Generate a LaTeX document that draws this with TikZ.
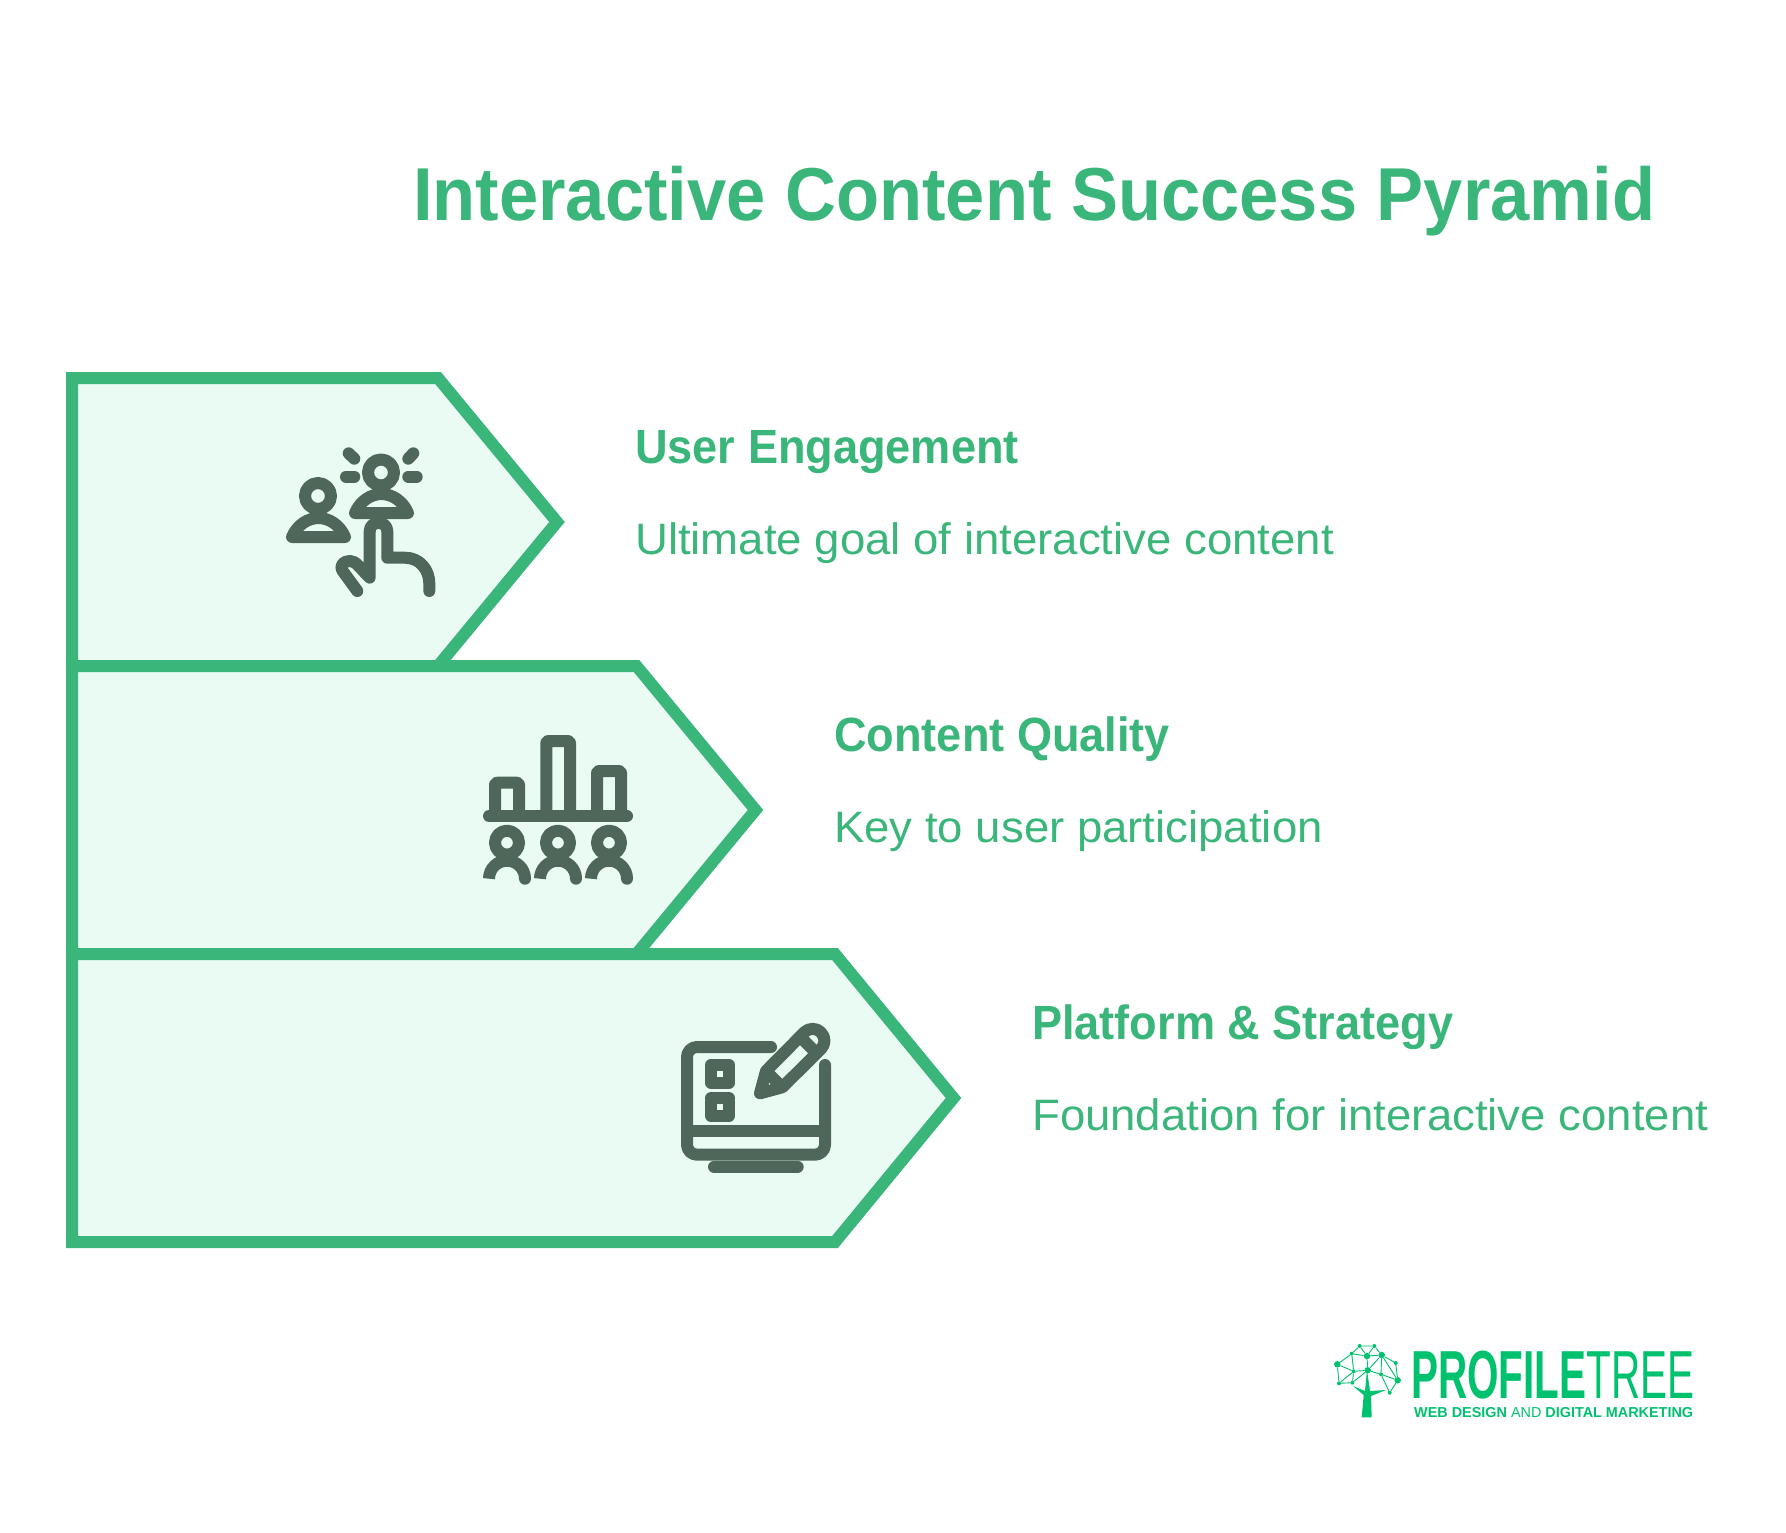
\documentclass[tikz,border=0pt]{standalone}
\usepackage{fontspec}
\setmainfont[UprightFeatures={FakeStretch=1.035},BoldFeatures={FakeStretch=0.94}]{Liberation Sans}
\newfontfamily\logofont[FakeStretch=0.595]{Liberation Sans}
\newfontfamily\sloganfont{Liberation Sans}
\definecolor{pyrgreen}{HTML}{3AB67A}
\definecolor{pyrfill}{HTML}{EAFBF3}
\definecolor{icongrey}{HTML}{4F665A}
\definecolor{logogreen}{HTML}{00C16E}
\tikzset{
  tier/.style={draw=pyrgreen,fill=pyrfill,line width=12pt,miter limit=10},
  icon/.style={draw=icongrey,line width=12pt,line cap=round,line join=round},
  iconbutt/.style={draw=icongrey,line width=12pt,line cap=butt},
  heading/.style={anchor=base west,inner sep=0pt,text=pyrgreen,font=\fontsize{48}{54}\selectfont\bfseries},
  blurb/.style={anchor=base west,inner sep=0pt,text=pyrgreen,font=\fontsize{44}{50}\selectfont},
  bigdot/.style={circle,fill=logogreen,inner sep=0pt,minimum size=6.5pt},
  smalldot/.style={circle,fill=logogreen,inner sep=0pt,minimum size=4pt}
}
\begin{document}
\begin{tikzpicture}[x=1pt,y=-1pt]
\useasboundingbox (0,0) rectangle (1786,1532);
\fill[white] (0,0) rectangle (1786,1532);
% Titre
\node[anchor=base west,inner sep=0pt,text=pyrgreen,font=\fontsize{75}{80}\selectfont\bfseries] (title) at (413,220) {Interactive Content Success Pyramid};
% Les trois niveaux
\draw[tier] (72,378) -- (438,378) -- (557,522) -- (438,666) -- (72,666) -- cycle;
\draw[tier] (72,666) -- (636.5,666) -- (755.5,810) -- (636.5,954) -- (72,954) -- cycle;
\draw[tier] (72,954) -- (835,954) -- (953.5,1098) -- (835,1242) -- (72,1242) -- cycle;
\node[heading] (engagehead) at (635,463) {User Engagement};
\node[blurb] (engagetext) at (635,554) {Ultimate goal of interactive content};
\node[heading] (qualityhead) at (834,751) {Content Quality};
\node[blurb] (qualitytext) at (834,842) {Key to user participation};
\node[heading] (platformhead) at (1032,1039) {Platform \& Strategy};
\node[blurb] (platformtext) at (1032,1130) {Foundation for interactive content};
% Icone 1 : les personnes
\draw[icon] (381,472.5) circle (13);
\draw[icon] (355,513) .. controls (360,501) and (371,494) .. (381.5,494) .. controls (392,494) and (403,501) .. (408,513) -- cycle;
\draw[icon] (318,496) circle (13);
\draw[icon] (292,537) .. controls (297,525) and (308,518) .. (318.5,518) .. controls (329,518) and (340,525) .. (345,537) -- cycle;
\draw[icon] (348.7,453.3) -- (354.3,458.7);
\draw[icon] (413.3,453.3) -- (408.3,458.7);
\draw[icon] (346,476.7) -- (354.3,476.7);
\draw[icon] (408.3,476.7) -- (416.7,476.7);
\draw[icon] (357.3,591) -- (342.7,571) .. controls (339,565) and (344,561) .. (350,561) .. controls (356,561) and (359,567) .. (369.7,577.7) -- (369.7,531.3) .. controls (369.7,520) and (387.3,520) .. (387.3,531.3) -- (387.3,557.7) -- (405,557.7) .. controls (420,557.7) and (429.3,570) .. (429.3,583.3) -- (429.3,591);
% Icone 2 : barres et public
\draw[icon] (489,816) -- (627,816);
\draw[icon,rounded corners=2pt] (495,816) -- (495,782.7) -- (519,782.7) -- (519,816);
\draw[icon,rounded corners=2pt] (546.3,816) -- (546.3,741) -- (570,741) -- (570,816);
\draw[icon,rounded corners=2pt] (597,816) -- (597,771) -- (621,771) -- (621,816);
\draw[icon] (507,842.7) circle (12);
\draw[icon] (558,842.7) circle (12);
\draw[icon] (609,842.7) circle (12);
\draw[iconbutt] (489,878.7) arc (180:360:18);
\draw[iconbutt] (540,878.7) arc (180:360:18);
\draw[iconbutt] (591,878.7) arc (180:360:18);
\fill[icongrey] (525,878.7) circle (6) (576,878.7) circle (6) (627,878.7) circle (6);
% Icone 3 : ecran et crayon
\draw[icon,rounded corners=10pt] (771,1047) -- (687,1047) -- (687,1154.7) -- (825,1154.7) -- (825,1065);
\draw[iconbutt] (687,1130.7) -- (825,1130.7);
\draw[icon] (714,1166.7) -- (797.7,1166.7);
\draw[icon] (711,1065) rectangle (729,1083);
\draw[icon] (711,1098) rectangle (729,1116);
\draw[icon] (760,1093.3) -- (766,1071) -- (804.3,1032.3) arc (225:405:11.8) -- (782.3,1087.3) -- cycle;
\draw[iconbutt] (766,1071) -- (782.3,1087.3);
\draw[iconbutt] (800.2,1036.8) -- (816.5,1053.2);
% Logo
\fill[logogreen] (1361.7,1417.3) -- (1363.7,1395) -- (1353,1386) -- (1365,1391) -- (1367,1370) -- (1370,1391) -- (1386,1390) -- (1371,1396) -- (1371.7,1417.3) -- cycle;
\node[bigdot] (t1) at (1337.3,1364.3) {};
\node[bigdot] (t2) at (1367,1356) {};
\node[bigdot] (t3) at (1381.7,1355) {};
\node[bigdot] (t4) at (1367.7,1370.3) {};
\node[bigdot] (t5) at (1397.7,1380.3) {};
\node[smalldot] (t6) at (1359.7,1346) {};
\node[smalldot] (t7) at (1374.3,1346) {};
\node[smalldot] (t8) at (1351.7,1353.7) {};
\node[smalldot] (t9) at (1395.7,1363) {};
\node[smalldot] (t10) at (1353.7,1371.3) {};
\node[smalldot] (t11) at (1381,1374.3) {};
\node[smalldot] (t12) at (1339,1383.3) {};
\node[smalldot] (t13) at (1352.3,1382.7) {};
\node[smalldot] (t14) at (1389.7,1392.7) {};
\draw[logogreen,line width=0.9pt] (t6) -- (t7) (t6) -- (t8) (t6) -- (t2) (t7) -- (t2) (t7) -- (t3) (t8) -- (t1) (t8) -- (t2) (t2) -- (t3) (t3) -- (t9) (t3) -- (t5) (t9) -- (t5) (t1) -- (t10) (t1) -- (t12) (t8) -- (t10) (t10) -- (t4) (t2) -- (t4) (t3) -- (t4) (t4) -- (t11) (t11) -- (t5) (t11) -- (t3) (t11) -- (t14) (t5) -- (t14) (t10) -- (t13) (t12) -- (t13) (t12) -- (t10) (t13) -- (t4);
\node[anchor=base west,inner sep=0pt,text=logogreen,font=\fontsize{68}{70}\logofont\selectfont] (profile) at (1411,1398) {\textbf{PROFILE}TREE};
\node[anchor=base west,inner sep=0pt,text=logogreen,font=\fontsize{14.4}{16}\sloganfont\selectfont] (slogan) at (1414,1417) {\textbf{WEB DESIGN} AND \textbf{DIGITAL MARKETING}};
\end{tikzpicture}
\end{document}
